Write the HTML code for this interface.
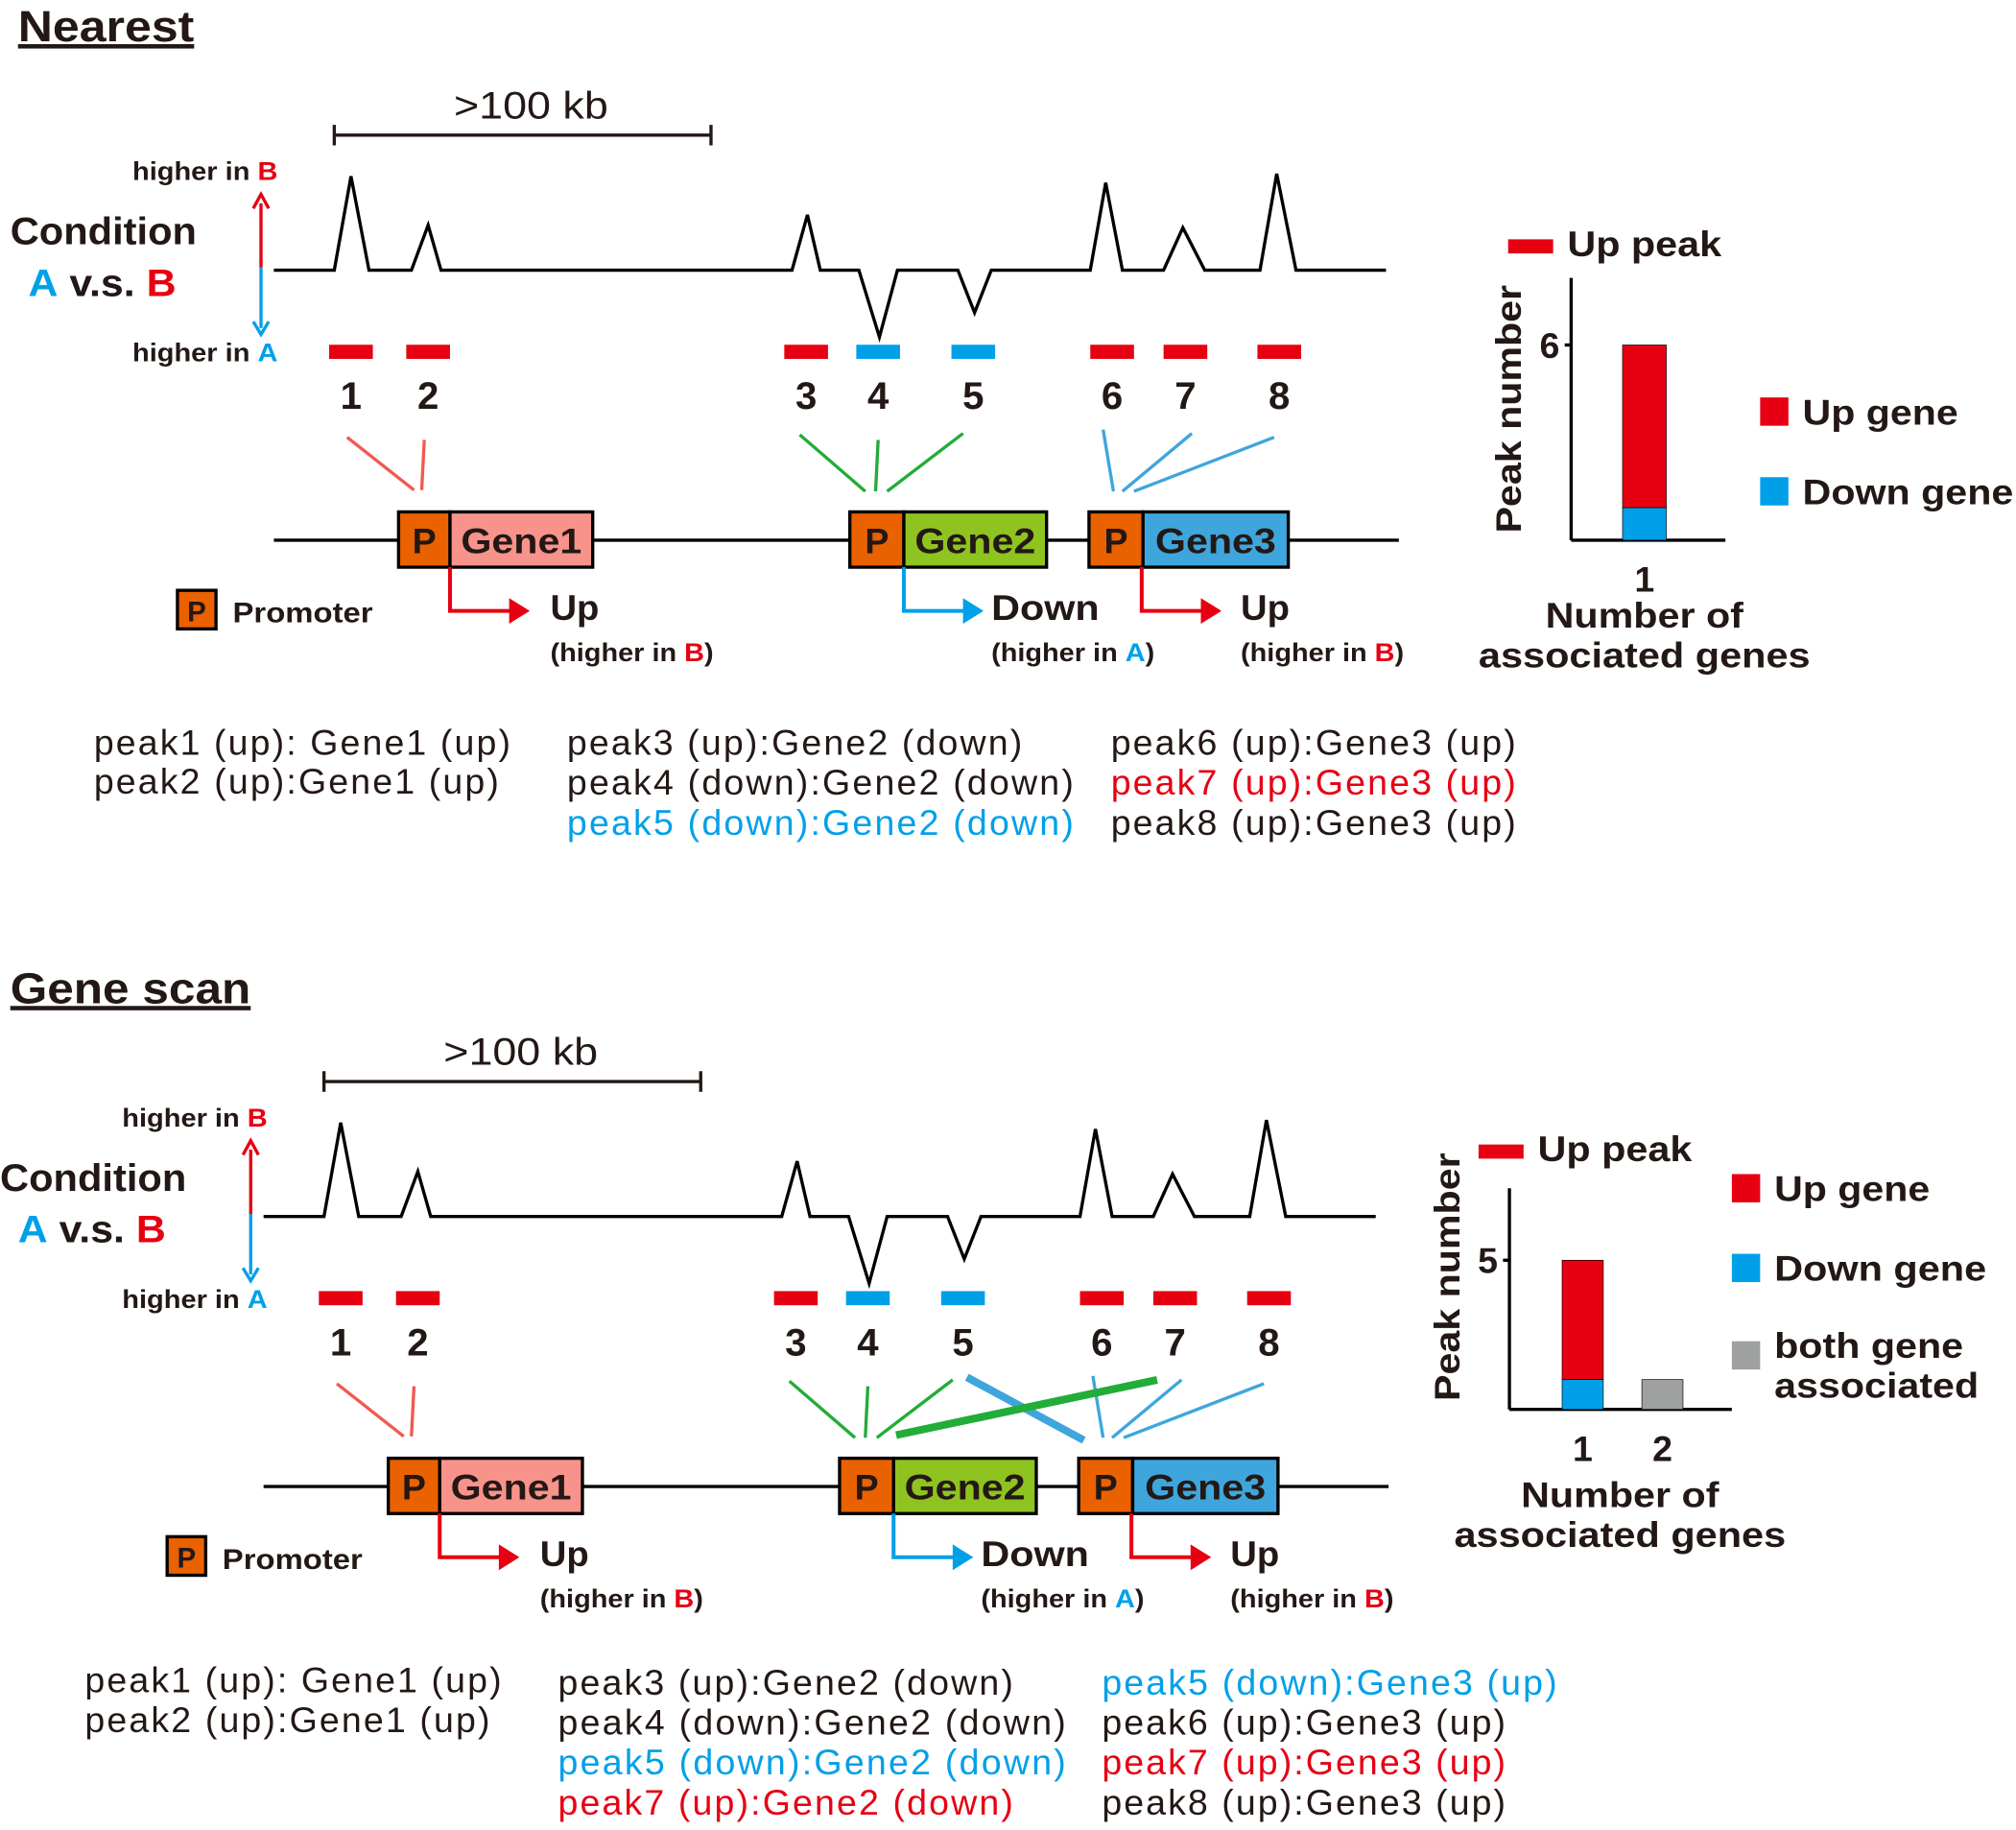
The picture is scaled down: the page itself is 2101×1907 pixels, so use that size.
<!DOCTYPE html>
<html><head><meta charset="utf-8"><style>
body{margin:0;background:#fff}
svg{display:block;font-family:"Liberation Sans",Arial,sans-serif}
.b{font-weight:bold}
</style></head><body>
<svg width="2101" height="1907" viewBox="0 0 1568 1423" xmlns="http://www.w3.org/2000/svg">
<text x="14" y="32" class="b" font-size="34" textLength="137" lengthAdjust="spacingAndGlyphs" text-decoration="underline" fill="#231815">Nearest</text>
<text x="8" y="780" class="b" font-size="34" textLength="187" lengthAdjust="spacingAndGlyphs" text-decoration="underline" fill="#231815">Gene scan</text>

<g id="panel1"></g>
<g id="panel2" transform="translate(-8,736)"></g>

<g font-size="28" fill="#231815" lengthAdjust="spacingAndGlyphs">
<text x="73" y="587" textLength="324">peak1 (up): Gene1 (up)</text>
<text x="73" y="617" textLength="315">peak2 (up):Gene1 (up)</text>
<text x="441" y="587" textLength="354">peak3 (up):Gene2 (down)</text>
<text x="441" y="618" textLength="394">peak4 (down):Gene2 (down)</text>
<text x="441" y="649" textLength="394" fill="#00a0e9">peak5 (down):Gene2 (down)</text>
<text x="864" y="587" textLength="315">peak6 (up):Gene3 (up)</text>
<text x="864" y="618" textLength="315" fill="#e60012">peak7 (up):Gene3 (up)</text>
<text x="864" y="649" textLength="315">peak8 (up):Gene3 (up)</text>
</g>
<g font-size="28" fill="#231815">
<text x="66" y="1316" textLength="324">peak1 (up): Gene1 (up)</text>
<text x="66" y="1347" textLength="315">peak2 (up):Gene1 (up)</text>
<text x="434" y="1318" textLength="354">peak3 (up):Gene2 (down)</text>
<text x="434" y="1349" textLength="395">peak4 (down):Gene2 (down)</text>
<text x="434" y="1380" textLength="395" fill="#00a0e9">peak5 (down):Gene2 (down)</text>
<text x="434" y="1411" textLength="354" fill="#e60012">peak7 (up):Gene2 (down)</text>
<text x="857" y="1318" textLength="354" fill="#00a0e9">peak5 (down):Gene3 (up)</text>
<text x="857" y="1349" textLength="314">peak6 (up):Gene3 (up)</text>
<text x="857" y="1380" textLength="314" fill="#e60012">peak7 (up):Gene3 (up)</text>
<text x="857" y="1411" textLength="314">peak8 (up):Gene3 (up)</text>
</g>

<g id="chart1"></g>
<g id="chart2"></g>
</svg>
<script>
const NS="http://www.w3.org/2000/svg";
const RED="#e60012",BLUE="#00a0e9",ORANGE="#ea6100",SALMON="#f7938a",GREEN="#8fc31f",BLUE3="#3ea6dc";
function mk(p,tag,a,txt){const e=document.createElementNS(NS,tag);for(const k in a)e.setAttribute(k,a[k]);if(a.textLength)e.setAttribute("lengthAdjust","spacingAndGlyphs");if(txt!==undefined)e.textContent=txt;p.appendChild(e);return e;}

const peakCenters=[273,333,627,683,757,865,922,995];
const peakDir=["up","up","up","down","down","up","up","up"];

function drawPanel(g,scan){
  let e=mk(g,"path",{d:"M260,105 H553 M260,97 V113 M553,97 V113",stroke:"#231815","stroke-width":2.5,fill:"none"});
  
  e=mk(g,"text",{x:413,y:92,"font-size":30,"text-anchor":"middle",fill:"#231815",textLength:120},">100 kb");
  
  e=mk(g,"path",{d:"M213,210 H260 L273,137 L287,210 H320 L333,175 L343,210 H616 L628,167 L638,210 H668 L684,262 L698,210 H745 L758,243 L771,210 H848 L860,142 L873,210 H905 L920,177 L937,210 H980 L993,135 L1008,210 H1078",stroke:"#000","stroke-width":2.5,fill:"none"});
  
  e=mk(g,"text",{x:103,y:140,"font-size":20,class:"b",fill:"#231815",textLength:113});
  e.innerHTML='higher in <tspan fill="'+RED+'">B</tspan>';
  
  e=mk(g,"text",{x:103,y:281,"font-size":20,class:"b",fill:"#231815",textLength:113});
  e.innerHTML='higher in <tspan fill="'+BLUE+'">A</tspan>';
  
  mk(g,"line",{x1:203,y1:208,x2:203,y2:158,stroke:RED,"stroke-width":2.5});
  mk(g,"path",{d:"M197,162 L203,151 L209,162",stroke:RED,"stroke-width":2.5,fill:"none"});
  mk(g,"line",{x1:203,y1:208,x2:203,y2:255,stroke:BLUE,"stroke-width":2.5});
  mk(g,"path",{d:"M197,250 L203,260 L209,250",stroke:BLUE,"stroke-width":2.5,fill:"none"});
  e=mk(g,"text",{x:8,y:190,"font-size":30,class:"b",fill:"#231815",textLength:145},"Condition");
  
  e=mk(g,"text",{x:22,y:230,"font-size":30,class:"b",fill:"#231815",textLength:115});
  e.innerHTML='<tspan fill="'+BLUE+'">A</tspan> v.s. <tspan fill="'+RED+'">B</tspan>';
  peakCenters.forEach((c,i)=>{
    const r=mk(g,"rect",{x:c-17,y:268,width:34,height:11,fill:peakDir[i]=="up"?RED:BLUE});
    
    const t=mk(g,"text",{x:c,y:318,"font-size":30,class:"b","text-anchor":"middle",fill:"#231815"},String(i+1));
    
  });
  const L=(x1,y1,x2,y2,c,w)=>mk(g,"line",{x1,y1,x2,y2,stroke:c,"stroke-width":w||2.5});
  L(270,340,322,381,"#f05a50");L(330,342,328,381,"#f05a50");
  L(622,338,673,382,"#22ac38");L(683,342,681,382,"#22ac38");L(749,337,690,382,"#22ac38");
  L(858,334,866,382,BLUE3);L(927,337,873,382,BLUE3);L(991,340,882,382,BLUE3);
  if(scan){L(760,335,851,384,BLUE3,6);L(705,380,908,337,"#22ac38",6);}
  L(213,420,1088,420,"#000",2.5);
  const genes=[[310,350,461,SALMON,"Gene1"],[661,703,814,GREEN,"Gene2"],[847,889,1002,BLUE3,"Gene3"]];
  genes.forEach((gg,i)=>{
    let r=mk(g,"rect",{x:gg[0],y:398,width:gg[1]-gg[0],height:43,fill:ORANGE,stroke:"#000","stroke-width":2.5});
    
    mk(g,"text",{x:(gg[0]+gg[1])/2,y:430,"font-size":28,class:"b","text-anchor":"middle",fill:"#231815"},"P");
    r=mk(g,"rect",{x:gg[1],y:398,width:gg[2]-gg[1],height:43,fill:gg[3],stroke:"#000","stroke-width":2.5});
    
    mk(g,"text",{x:(gg[1]+gg[2])/2,y:430,"font-size":28,class:"b","text-anchor":"middle",fill:"#231815",textLength:94},gg[4]);
  });
  const arrs=[[350,RED,"Up","B",428,38],[703,BLUE,"Down","A",771,84],[888,RED,"Up","B",965,38]];
  arrs.forEach((a,i)=>{
    mk(g,"path",{d:`M${a[0]},441 V475 H${a[0]+50}`,stroke:a[1],"stroke-width":3,fill:"none"});
    mk(g,"path",{d:`M${a[0]+46},465 L${a[0]+62},475 L${a[0]+46},485 z`,fill:a[1]});
    let t=mk(g,"text",{x:a[4],y:482,"font-size":28,class:"b",fill:"#231815",textLength:a[5]},a[2]);
    
    t=mk(g,"text",{x:a[4],y:514,"font-size":20,class:"b",fill:"#231815",textLength:127});
    t.innerHTML='(higher in <tspan fill="'+(a[3]=="B"?RED:BLUE)+'">'+a[3]+'</tspan>)';
  });
  e=mk(g,"rect",{x:138,y:459,width:30,height:30,fill:ORANGE,stroke:"#000","stroke-width":2.5});
  
  mk(g,"text",{x:153,y:483,"font-size":22,class:"b","text-anchor":"middle",fill:"#231815"},"P");
  mk(g,"text",{x:181,y:484,"font-size":22,class:"b",fill:"#231815",textLength:109},"Promoter");
}
drawPanel(document.getElementById("panel1"),false);
drawPanel(document.getElementById("panel2"),true);

// ---- chart data ----
const cats1=["1"];
const up1=[5];
const down1=[1];
const ticks1=[6];
const cats2=["1","2"];
const up2=[4,0];
const down2=[1,0];
const both2=[0,1];
const ticks2=[5];

function drawChart(g,o){
  const y=v=>o.y0-v*o.ppu;
  const A=(x1,y1,x2,y2)=>mk(g,"line",{x1,y1,x2,y2,stroke:"#000","stroke-width":2.5});
  A(o.ax,o.top,o.ax,o.y0);A(o.ax,o.y0,o.ax2,o.y0);
  o.ticks.forEach(t=>{A(o.ax-5,y(t),o.ax,y(t));
    const tt=mk(g,"text",{x:o.ax-9,y:y(t)+10,"font-size":28,class:"b","text-anchor":"end",fill:"#231815"},String(t));
    });
  o.cats.forEach((c,i)=>{
    const x=o.bx0+i*o.step;let base=0;
    [[o.down,BLUE,"down"],[o.up,RED,"up"],[o.both,"#9fa0a0","both"]].forEach(s=>{
      if(!s[0])return;const v=s[0][i];if(!v)return;
      const r=mk(g,"rect",{x:x,y:y(base+v),width:o.bw,height:v*o.ppu,fill:s[1],stroke:"#000","stroke-width":0.5});
      
      base+=v;});
    const t=mk(g,"text",{x:x+o.bw/2,y:o.y0+40,"font-size":28,class:"b","text-anchor":"middle",fill:"#231815"},c);
    
  });
  let t=mk(g,"text",{transform:`translate(${o.ylx},${o.yly}) rotate(-90)`,"font-size":28,class:"b","text-anchor":"middle",fill:"#231815",textLength:193},"Peak number");
  
  t=mk(g,"text",{x:o.xtx,y:o.xty,"font-size":28,class:"b","text-anchor":"middle",fill:"#231815",textLength:154},"Number of");
  
  mk(g,"text",{x:o.xtx,y:o.xty+31,"font-size":28,class:"b","text-anchor":"middle",fill:"#231815",textLength:258},"associated genes");
  let r=mk(g,"rect",{x:o.upx,y:o.upy,width:35,height:11,fill:RED});
  
  mk(g,"text",{x:o.upx+46,y:o.upy+13,"font-size":28,class:"b",fill:"#231815",textLength:120},"Up peak");
  o.leg.forEach((l,i)=>{
    const r=mk(g,"rect",{x:o.lx,y:l[0],width:22,height:22,fill:l[1]});
    
    l[3].forEach((s,j)=>mk(g,"text",{x:o.lx+33,y:l[0]+21+j*31-(l[3].length>1?8:0),"font-size":28,class:"b",fill:"#231815",textLength:l[4][j]},s));
  });
}
drawChart(document.getElementById("chart1"),{y0:420,top:216,ppu:25.3,ax:1222,ax2:1342,ticks:ticks1,cats:cats1,up:up1,down:down1,both:null,bx0:1262,bw:34,step:62,ylx:1183,yly:318,xtx:1279,xty:488,upx:1173,upy:186,lx:1369,
 leg:[[309,RED,"up gene",["Up gene"],[121]],[371,BLUE,"down gene",["Down gene"],[164]]]});
drawChart(document.getElementById("chart2"),{y0:1096,top:924,ppu:23.2,ax:1174,ax2:1347,ticks:ticks2,cats:cats2,up:up2,down:down2,both:both2,bx0:1215,bw:32,step:62,ylx:1135,yly:993,xtx:1260,xty:1172,upx:1150,upy:890,lx:1347,
 leg:[[913,RED,"up gene",["Up gene"],[121]],[975,BLUE,"down gene",["Down gene"],[165]],[1043,"#9fa0a0","both gene",["both gene","associated"],[147,159]]]});
</script>
</body></html>
